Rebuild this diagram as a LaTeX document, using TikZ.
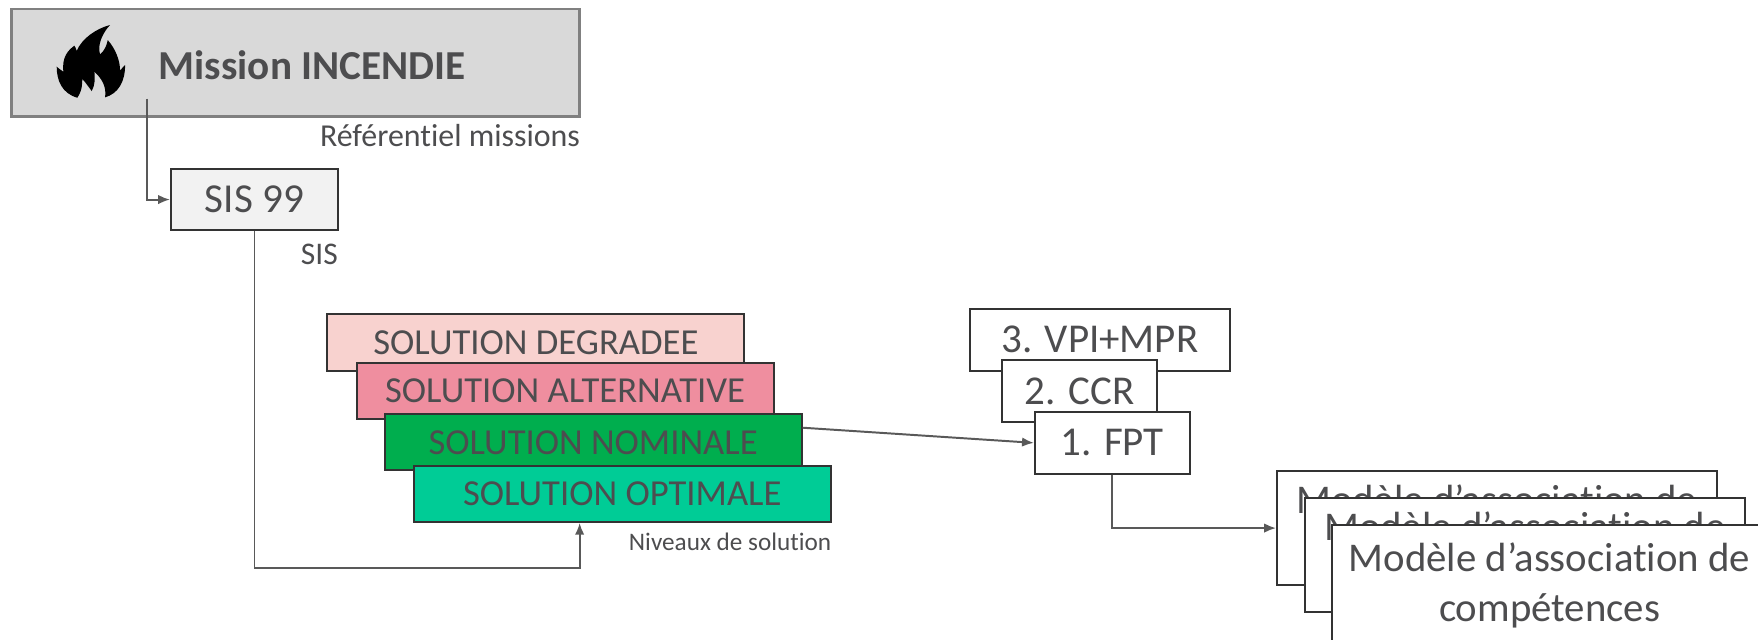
\documentclass[tikz,border=0pt]{standalone}
\usepackage{fontspec}
\setmainfont{Carlito}[Ligatures=NoCommon]
\usetikzlibrary{arrows.meta}
\definecolor{texte}{HTML}{4D4D4F}
\definecolor{trait}{HTML}{595959}
\definecolor{bord}{HTML}{333333}
\definecolor{degradee}{HTML}{F8D2CF}
\definecolor{alternative}{HTML}{EF8E9F}
\definecolor{nominale}{HTML}{00AE4E}
\definecolor{optimale}{HTML}{00CC96}
\tikzset{
  bloc/.style={draw=bord,line width=0.5pt,text=texte,inner sep=0pt,align=center},
  niveau/.style={bloc,minimum width=3.72cm,minimum height=0.5cm,font=\fontsize{9.3}{11}\selectfont},
  vehicule/.style={bloc,fill=white,minimum height=0.55cm,font=\fontsize{10.4}{12}\selectfont},
  modele/.style={bloc,fill=white,minimum width=3.92cm,minimum height=1.02cm,font=\fontsize{10.35}{12.8}\selectfont},
  legende/.style={text=texte,inner sep=0pt,anchor=east},
  fleche/.style={draw=trait,line width=0.5pt,-{Latex[length=3pt,width=2.4pt]}}
}
\begin{document}
\begin{tikzpicture}
    \clip(0,0)rectangle(15.68,-5.70);
    \node[bloc,draw=black!50,line width=0.7pt,fill=black!15,minimum width=5.07cm,minimum height=0.96cm](mission)at(2.635,-0.56){};
    \node[text=texte,inner sep=0pt,anchor=west,font=\fontsize{10.45}{12}\selectfont\bfseries](titre)at(1.41,-0.58){Mission INCENDIE};
    \begin{scope}[shift={(0.357,-0.134)},x=0.00297cm,y=-0.00297cm]
    \fill[black](210,30)..controls(170,40)and(125,70)..(110,108)
        ..controls(108,100)and(105,95)..(103,92)
        ..controls(85,105)and(65,125)..(70,170)
        ..controls(63,165)and(55,160)..(50,155)
        ..controls(50,195)and(65,235)..(112,248)
        ..controls(130,220)and(125,200)..(127,192)
        ..controls(135,200)and(145,215)..(155,228)
        ..controls(165,210)and(165,190)..(163,170)
        ..controls(185,190)and(200,215)..(195,247)
        ..controls(235,235)and(255,200)..(255,150)
        ..controls(250,155)and(245,160)..(240,167)
        ..controls(240,135)and(225,100)..(203,75)
        ..controls(200,90)and(195,105)..(180,118)
        ..controls(170,90)and(190,50)..(210,30)--cycle;
    \end{scope}
    \node[legende,font=\fontsize{8.1}{10}\selectfont](refmissions)at(5.18,-1.21){Référentiel missions};
    \coordinate(depart)at(1.31,-0.88);
    \node[bloc,fill=black!5,minimum width=1.49cm,minimum height=0.55cm,font=\fontsize{10.45}{12}\selectfont](sis)at(2.27,-1.78){SIS 99};
    \node[legende,font=\fontsize{8}{10}\selectfont](refsis)at(3.02,-2.27){SIS};
    \node[niveau,fill=degradee](degradee)at(4.78,-3.055){SOLUTION DEGRADEE};
    \node[niveau,fill=alternative](alternative)at(5.04,-3.485){SOLUTION ALTERNATIVE};
    \node[niveau,fill=nominale](nominale)at(5.29,-3.945){SOLUTION NOMINALE};
    \node[niveau,fill=optimale](optimale)at(5.55,-4.405){SOLUTION OPTIMALE};
    \node[legende,font=\fontsize{6.4}{8}\selectfont](refniveaux)at(7.42,-4.83){Niveaux de solution};
    \coordinate(coude)at(5.17,-5.07);
    \node[vehicule,minimum width=2.32cm](vpi)at(9.81,-3.03){3. VPI+MPR};
    \node[vehicule,minimum width=1.38cm](ccr)at(9.63,-3.49){2. CCR};
    \node[vehicule,minimum width=1.38cm](fpt)at(9.92,-3.95){1. FPT};
    \node[modele](modeleA)at(13.35,-4.71){Modèle d’association de\\compétences};
    \node[modele](modeleB)at(13.60,-4.95){Modèle d’association de\\compétences};
    \node[modele,minimum width=3.88cm,minimum height=1.08cm](modeleC)at(13.82,-5.22){Modèle d’association de\\compétences};
    \draw[fleche](depart)|-(sis.west);
    \draw[fleche](sis.south)|-(coude)--(coude|-optimale.south);
    \draw[fleche]([yshift=0.13cm]nominale.east)--(fpt.west);
    \draw[fleche](fpt.south)|-(modeleA.west);
\end{tikzpicture}
\end{document}
